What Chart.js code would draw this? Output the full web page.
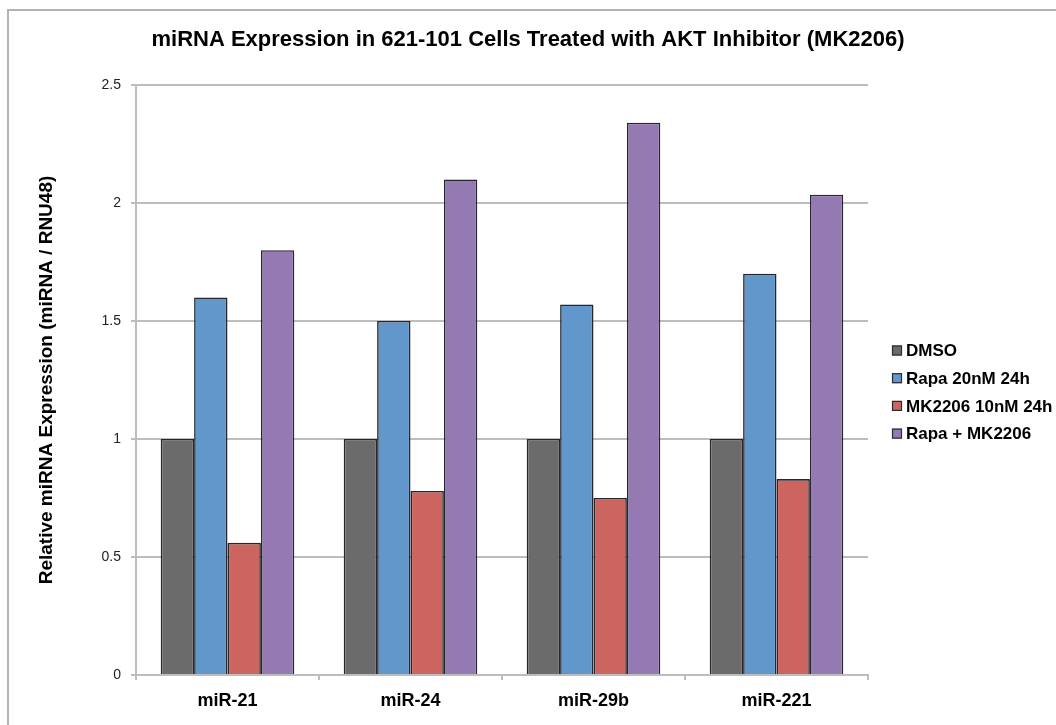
<!DOCTYPE html>
<html>
<head>
<meta charset="utf-8">
<title>miRNA Expression</title>
<script src="https://cdn.jsdelivr.net/npm/chart.js@4/dist/chart.umd.min.js"></script>
<style>
  html, body { margin: 0; padding: 0; background: #ffffff; }
  #wrap { width: 1056px; height: 725px; }
</style>
</head>
<body>
<div id="wrap"><canvas id="chart" width="1056" height="725"></canvas></div>
<script>
// Categories, series and values
const categories = ['miR-21', 'miR-24', 'miR-29b', 'miR-221'];
const seriesNames = ['DMSO', 'Rapa 20nM 24h', 'MK2206 10nM 24h', 'Rapa + MK2206'];
const dmsoValues = [1.0, 1.0, 1.0, 1.0];
const rapaValues = [1.60, 1.50, 1.57, 1.70];
const mk2206Values = [0.56, 0.78, 0.75, 0.83];
const comboValues = [1.80, 2.10, 2.34, 2.035];
const yTickValues = [0, 0.5, 1, 1.5, 2, 2.5];
const yTickLabels = ['0', '0.5', '1', '1.5', '2', '2.5'];

const seriesColors = ['#6b6b6b', '#6197ca', '#cc6560', '#9479b2'];
const FONT = '"Liberation Sans", Arial, Helvetica, sans-serif';
const GRID = '#bdbdbd';

// Thin frame along the top and left edges of the canvas
const framePlugin = {
  id: 'frame',
  beforeDraw(chart) {
    const ctx = chart.ctx;
    ctx.save();
    ctx.fillStyle = '#ffffff';
    ctx.fillRect(0, 0, chart.width, chart.height);
    ctx.strokeStyle = '#b3b3b3';
    ctx.lineWidth = 2;
    ctx.beginPath();
    ctx.moveTo(8, chart.height);
    ctx.lineTo(8, 10);
    ctx.lineTo(chart.width, 10);
    ctx.stroke();
    ctx.restore();
  }
};

// Vertical legend placed in the space to the right of the plot
const sideLegendPlugin = {
  id: 'sideLegend',
  afterDraw(chart) {
    const ctx = chart.ctx;
    const x0 = chart.chartArea.right + 24;
    const y0 = 350.5;
    const pitch = 27.7;
    const box = 10;
    ctx.save();
    ctx.font = 'bold 17px ' + FONT;
    ctx.textBaseline = 'middle';
    ctx.textAlign = 'left';
    chart.data.datasets.forEach((ds, i) => {
      const y = y0 + i * pitch;
      ctx.fillStyle = ds.backgroundColor;
      ctx.fillRect(x0, y - box / 2, box, box);
      ctx.strokeStyle = '#2b2b33';
      ctx.lineWidth = 1.2;
      ctx.strokeRect(x0 + 0.5, y - box / 2 + 0.5, box - 1, box - 1);
      ctx.fillStyle = '#000000';
      ctx.fillText(ds.label, x0 + box + 4, y + 1);
    });
    ctx.restore();
  }
};

const valueSets = [dmsoValues, rapaValues, mk2206Values, comboValues];

new Chart(document.getElementById('chart'), {
  type: 'bar',
  data: {
    labels: categories,
    datasets: seriesNames.map((name, i) => ({
      label: name,
      data: valueSets[i],
      backgroundColor: seriesColors[i],
      borderColor: '#26262e',
      borderWidth: 1.6,
      categoryPercentage: 0.73,
      barPercentage: 1.0
    }))
  },
  options: {
    responsive: false,
    animation: false,
    devicePixelRatio: 1,
    layout: { padding: { left: 0, right: 0, top: 0, bottom: 0 } },
    plugins: {
      legend: { display: false },
      tooltip: { enabled: false },
      title: {
        display: true,
        text: 'miRNA Expression in 621-101 Cells Treated with AKT Inhibitor (MK2206)',
        color: '#000000',
        font: { family: FONT, size: 22, weight: 'bold', lineHeight: 1.2 },
        padding: { top: 27, bottom: 31.6 }
      }
    },
    scales: {
      x: {
        grid: {
          display: true,
          offset: true,
          drawOnChartArea: false,
          drawTicks: true,
          tickLength: 5,
          color: GRID,
          lineWidth: 2
        },
        border: { display: true, color: GRID, width: 2 },
        ticks: {
          color: '#000000',
          padding: 10,
          font: { family: FONT, size: 18, weight: 'bold' }
        },
        afterFit(scale) { scale.height = 50; }
      },
      y: {
        min: 0,
        max: 2.5,
        afterBuildTicks(scale) {
          scale.ticks = yTickValues.map(v => ({ value: v }));
        },
        grid: {
          color: GRID,
          lineWidth: 2,
          drawTicks: true,
          tickLength: 5
        },
        border: { display: true, color: GRID, width: 2 },
        ticks: {
          color: '#222222',
          padding: 10,
          font: { family: FONT, size: 14 },
          callback(value) {
            const idx = yTickValues.indexOf(value);
            return idx >= 0 ? yTickLabels[idx] : '';
          }
        },
        title: {
          display: true,
          text: 'Relative miRNA Expression (miRNA / RNU48)',
          color: '#000000',
          font: { family: FONT, size: 19, weight: 'bold', lineHeight: 1.2 },
          padding: { top: 35, bottom: 0 }
        },
        afterFit(scale) { scale.width = 136; }
      },
      spacer: {
        type: 'linear',
        position: 'right',
        display: true,
        grid: { display: false },
        border: { display: false },
        ticks: { display: false },
        afterFit(scale) { scale.width = 188; }
      }
    }
  },
  plugins: [framePlugin, sideLegendPlugin]
});
</script>
</body>
</html>
